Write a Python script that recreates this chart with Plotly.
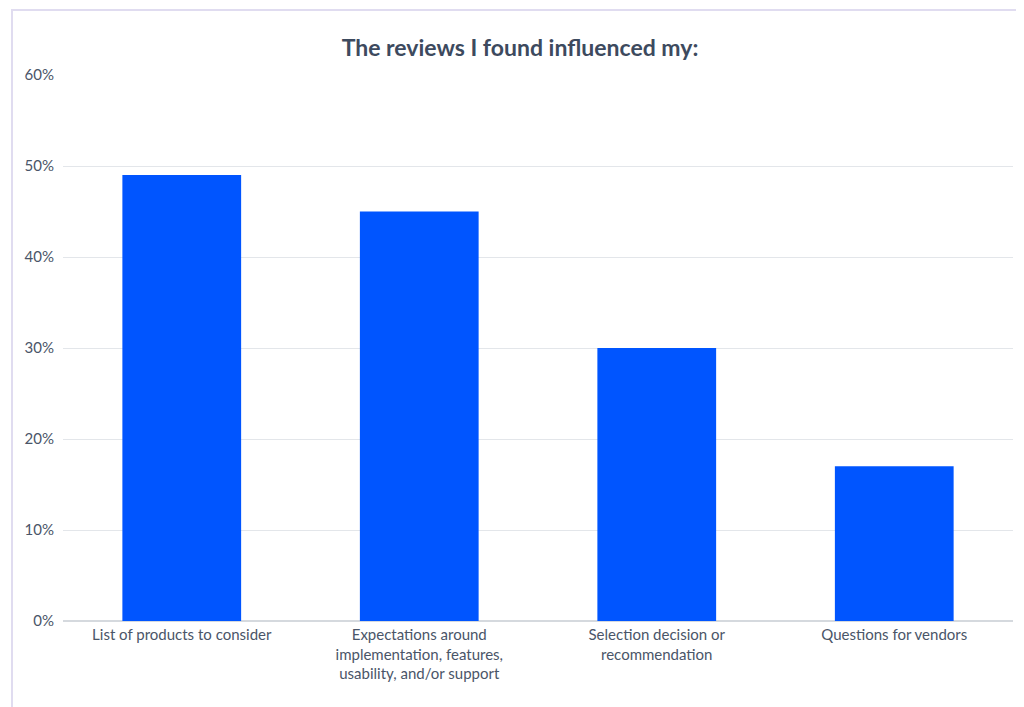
import plotly.graph_objects as go

categories = [
    "List of products to consider",
    "Expectations around<br>implementation, features,<br>usability, and/or support",
    "Selection decision or<br>recommendation",
    "Questions for vendors",
]
values = [0.49, 0.45, 0.30, 0.17]

fig = go.Figure(go.Bar(x=categories, y=values, marker_color="#0055ff", marker_line_width=0))

fig.update_layout(
    width=1024, height=707,
    paper_bgcolor="white", plot_bgcolor="white",
    font=dict(family="Lato, Open Sans, sans-serif", size=15, color="#4a5568"),
    title=dict(text="<b>The reviews I found influenced my:</b>", x=0.5, xanchor="center",
               y=0.955, font=dict(size=23, color="#3d4a5e")),
    margin=dict(l=55, r=19, t=67, b=94),
    bargap=0.5,
    showlegend=False,
    shapes=[dict(type="rect", xref="paper", yref="paper", x0=-0.0537, x1=1.0194,
                 y0=-0.172, y1=1.119, line=dict(color="#e0dcf0", width=2))],
)
fig.update_yaxes(range=[0, 0.6], dtick=0.1, tickformat=".0%", gridcolor="#e3e6ea",
                 zeroline=True, zerolinecolor="#d5d9de", ticks="", ticklabelstandoff=8)
fig.update_xaxes(showline=True, linecolor="#d5d9de", ticks="")

fig.write_html("out.html")
